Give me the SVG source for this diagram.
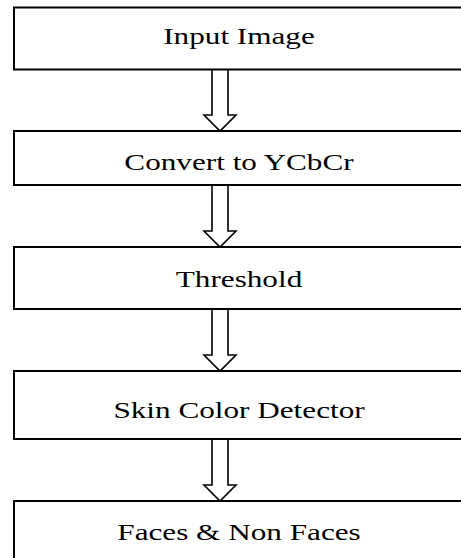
<svg xmlns="http://www.w3.org/2000/svg" width="461" height="558" viewBox="0 0 461 558">
<style>
.box{fill:#fff;stroke:#000;stroke-width:2}
.arr{fill:#fff;stroke:#000;stroke-width:1.6;stroke-linejoin:miter}
.lbl{font-family:"Liberation Serif","Times New Roman",serif;font-size:24px;fill:#000;text-anchor:middle}
</style>
<rect width="461" height="558" fill="#fff"/>
<g id="connectors">
<path class="arr" d="M212,69 V115 H204 L220,131 L236,115 H228 V69"/>
<path class="arr" d="M212,185 V231 H204 L220,247 L236,231 H228 V185"/>
<path class="arr" d="M212,309 V355 H204 L220,371 L236,355 H228 V309"/>
<path class="arr" d="M212,439 V485 H204 L220,501 L236,485 H228 V439"/>
</g>
<g id="n1"><rect class="box" x="14" y="7.5" width="480" height="62"/><text class="lbl" transform="translate(239,44) scale(1.3,1)">Input Image</text></g>
<g id="n2"><rect class="box" x="14" y="131" width="480" height="54"/><text class="lbl" transform="translate(239,170) scale(1.3,1)">Convert to YCbCr</text></g>
<g id="n3"><rect class="box" x="14" y="247" width="480" height="62"/><text class="lbl" transform="translate(239,287) scale(1.3,1)">Threshold</text></g>
<g id="n4"><rect class="box" x="14" y="371" width="480" height="68"/><text class="lbl" transform="translate(239,418) scale(1.3,1)">Skin Color Detector</text></g>
<g id="n5"><rect class="box" x="14" y="501" width="480" height="80"/><text class="lbl" transform="translate(239,540) scale(1.3,1)">Faces &amp; Non Faces</text></g>
</svg>
